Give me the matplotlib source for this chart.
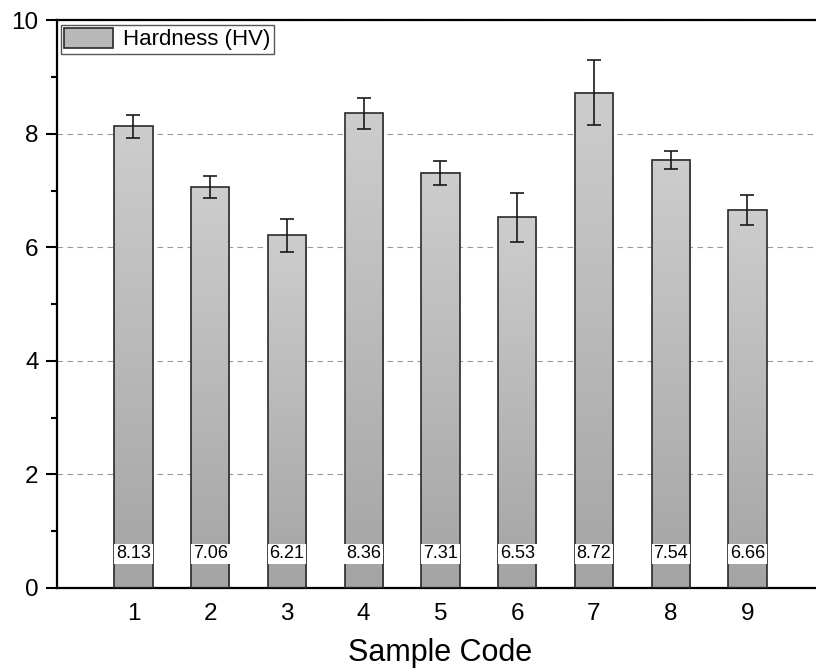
import numpy as np
import matplotlib.pyplot as plt
from matplotlib.colors import LinearSegmentedColormap
from matplotlib.patches import Patch

plt.rcParams['font.family'] = ['Liberation Sans', 'DejaVu Sans']

# Hardness per sample (HV) with error bars
samples = [1, 2, 3, 4, 5, 6, 7, 8, 9]
hardness = [8.13, 7.06, 6.21, 8.36, 7.31, 6.53, 8.72, 7.54, 6.66]
errors = [0.20, 0.20, 0.29, 0.27, 0.21, 0.43, 0.57, 0.16, 0.26]

fig = plt.figure(figsize=(8.16, 6.72), dpi=100)
ax = fig.add_axes([0.0695, 0.125, 0.9406, 0.845])

width = 0.5
grad = LinearSegmentedColormap.from_list('g', ['#a4a4a4', '#cdcdcd'])
gimg = np.linspace(0, 1, 256).reshape(-1, 1)

bars = ax.bar(samples, hardness, width=width, color='none', edgecolor='#2a2a2a',
              linewidth=1.2, zorder=3)
for b in bars:
    x0, y0 = b.get_x(), b.get_y()
    ax.imshow(gimg, cmap=grad, origin='lower', aspect='auto', zorder=2,
              extent=[x0, x0 + b.get_width(), y0, y0 + b.get_height()])

ax.errorbar(samples, hardness, yerr=errors, fmt='none', ecolor='#1a1a1a',
            elinewidth=1.2, capsize=5, capthick=1.2, zorder=4)

for s, h in zip(samples, hardness):
    ax.text(s, 0.6, f'{h:.2f}', ha='center', va='center', fontsize=13,
            zorder=5, bbox=dict(boxstyle='square,pad=0.1', fc='white', ec='none'))

ax.set_xlim(0, 10)
ax.set_ylim(0, 10)
ax.set_xticks(samples)
ax.set_yticks([0, 2, 4, 6, 8, 10])
ax.set_yticks([1, 3, 5, 7, 9], minor=True)
ax.yaxis.grid(True, which='major', linestyle=(0, (5, 4)), color='#9a9a9a', linewidth=0.8)
ax.set_axisbelow(True)

ax.spines['right'].set_visible(False)
for sp in ['left', 'bottom', 'top']:
    ax.spines[sp].set_linewidth(1.6)
ax.tick_params(axis='y', which='major', direction='out', length=8, width=1.5,
               labelsize=17.5, pad=5)
ax.tick_params(axis='y', which='minor', direction='out', length=4.5, width=1.5)
ax.tick_params(axis='x', length=0, labelsize=17.5, pad=11)

ax.set_xlabel('Sample Code', fontsize=22, labelpad=9)

handle = Patch(facecolor='#b8b8b8', edgecolor='#2a2a2a', linewidth=1.2)
leg = ax.legend([handle], ['Hardness (HV)'], loc='upper left', fontsize=16,
                fancybox=False, edgecolor='#555555', framealpha=1,
                borderaxespad=0.2, handlelength=2.2, handleheight=1.0,
                borderpad=0.15, handletextpad=0.45)
leg.get_frame().set_linewidth(1.0)

fig.savefig('out.png', dpi=100)
